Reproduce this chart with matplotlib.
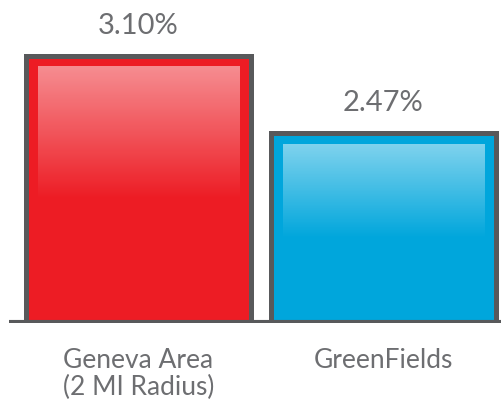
import numpy as np
import matplotlib.pyplot as plt

categories = ["Geneva Area\n(2 MI Radius)", "GreenFields"]
values = [3.10, 2.47]
value_labels = ["3.10%", "2.47%"]
colors = ["#ed1c24", "#00a6dc"]

plt.rcParams['font.family'] = ['Lato', 'DejaVu Sans']

fig = plt.figure(figsize=(5.02, 4.04), dpi=100)
# axes spans from the baseline start to the right edge, bottom at the baseline
ax = fig.add_axes([9 / 502, (404 - 323) / 404, 493 / 502, 323 / 404])

y0 = 0.929
ymax = y0 + 323 / 123.0
x = np.arange(len(values))
width = 0.922

bars = ax.bar(x, [v - y0 for v in values], bottom=y0, width=width,
              color=colors, edgecolor="#58595b", linewidth=3.6, zorder=2)

# white glossy gradient on upper half of each bar
grad = np.zeros((100, 1, 4))
grad[..., :3] = 1.0
grad[:, 0, 3] = np.linspace(0.5, 0.0, 100)
inset_x_l = 12.5 / 245
inset_x_r = 11.5 / 245
inset_y = 11 / 123.0
for xi, v in zip(x, values):
    top = v - inset_y
    bot = top - (v - y0) * 0.5
    ax.imshow(grad, extent=(xi - width / 2 + inset_x_l, xi + width / 2 - inset_x_r, bot, top),
              aspect="auto", zorder=3, interpolation="bilinear")

for xi, v, lab in zip(x, values, value_labels):
    ax.annotate(lab, (xi, v), xytext=(0, 16), textcoords="offset points",
                ha="center", va="baseline", fontsize=21, color="#6d6e71")

ax.axhline(y0, color="#58595b", linewidth=4.4, zorder=4)

ax.set_xlim(-0.5286, 1.4837)
ax.set_ylim(y0, ymax)
ax.set_xticks(x)
ax.set_xticklabels(categories, fontsize=19, color="#6d6e71", linespacing=1.1)
ax.tick_params(axis="x", length=0, pad=18)
ax.set_yticks([])
for s in ax.spines.values():
    s.set_visible(False)

fig.savefig("out.png", dpi=100)
